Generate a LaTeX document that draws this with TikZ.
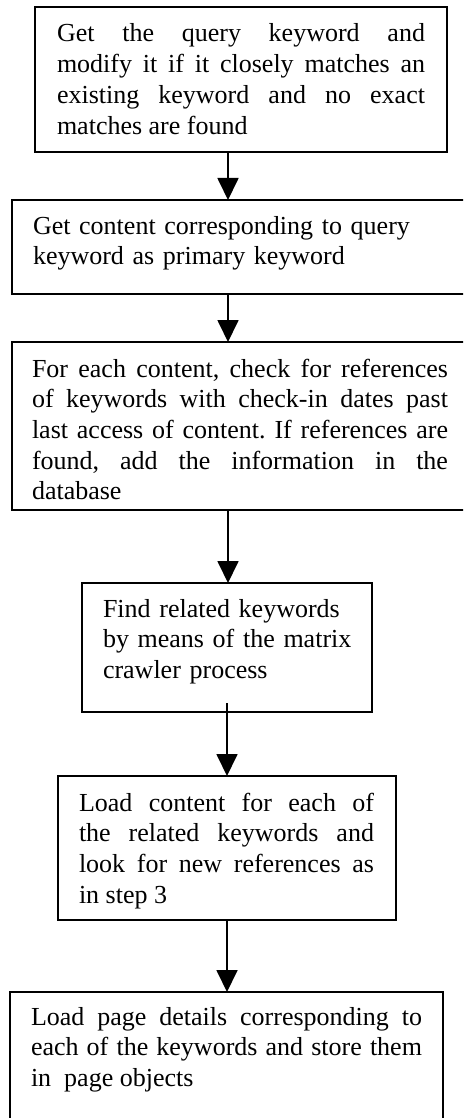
\documentclass[tikz,border=0pt]{standalone}
\usepackage{fontspec}
\setmainfont{Liberation Serif}
\usetikzlibrary{arrows.meta}
\hbadness=10000
\frenchspacing
\begin{document}
\begin{tikzpicture}[x=1pt,y=-1pt,
  box/.style={draw=black,line width=1.8pt,inner sep=0pt,outer sep=0pt,fill=none},
  txt/.style={anchor=north west,inner sep=0pt,outer sep=0pt,
    font=\fontsize{26}{30.7}\selectfont},
  flow/.style={line width=1.8pt,-{Triangle[width=21pt,length=22pt]}}]
\clip (0,0) rectangle (463,1118);
\fill[white] (0,0) rectangle (463,1118);

% process boxes
\node[box,minimum width=412pt,minimum height=145pt] (b1) at (241,79.5) {};
\node[box,minimum width=463pt,minimum height=94pt]  (b2) at (243.5,247) {};
\node[box,minimum width=463pt,minimum height=168pt] (b3) at (243.5,426) {};
\node[box,minimum width=290pt,minimum height=129pt] (b4) at (227,647.5) {};
\node[box,minimum width=338pt,minimum height=144pt] (b5) at (227,848) {};
\node[box,minimum width=433pt,minimum height=138pt] (b6) at (226.5,1061) {};

% box texts
\node[txt,text width=368pt,align=justify] (t1) at ([xshift=22pt]b1.north west)
  {\rule{0pt}{35pt}Get the query keyword and\linebreak
   modify it if it closely matches an\linebreak
   existing keyword and no exact\linebreak
   matches are found};
\node[txt,text width=420pt,align=left] (t2) at ([xshift=21pt]b2.north west)
  {\rule{0pt}{34pt}Get content corresponding to query\\
   keyword as primary keyword};
\node[txt,text width=416pt,align=justify] (t3) at ([xshift=20pt]b3.north west)
  {\rule{0pt}{35pt}For each content, check for references\linebreak
   of keywords with check-in dates past\linebreak
   last access of content. If references are\linebreak
   found, add the information in the\linebreak
   database};
\node[txt,text width=260pt,align=left] (t4) at ([xshift=21pt]b4.north west)
  {\rule{0pt}{34pt}Find related keywords\\
   by means of the matrix\\
   crawler process};
\node[txt,text width=295pt,align=justify] (t5) at ([xshift=21pt]b5.north west)
  {\rule{0pt}{35pt}Load content for each of\linebreak
   the related keywords and\linebreak
   look for new references as\linebreak
   in step 3};
\node[txt,text width=391pt,align=justify] (t6) at ([xshift=21pt]b6.north west)
  {\rule{0pt}{33pt}Load page details corresponding to\linebreak
   each of the keywords and store them\linebreak
   in~ page objects};

% connectors
\coordinate (sa) at (228,0);
\coordinate (sb) at (227,0);
\draw[flow] (sa |- b1.south) -- (sa |- b2.north);
\draw[flow] (sa |- b2.south) -- (sa |- b3.north);
\draw[flow] (sa |- b3.south) -- (sa |- b4.north);
\draw[flow] ([yshift=9pt]sb |- b4.south) -- (sb |- b5.north);
\draw[flow] (sb |- b5.south) -- (sb |- b6.north);
\end{tikzpicture}
\end{document}
